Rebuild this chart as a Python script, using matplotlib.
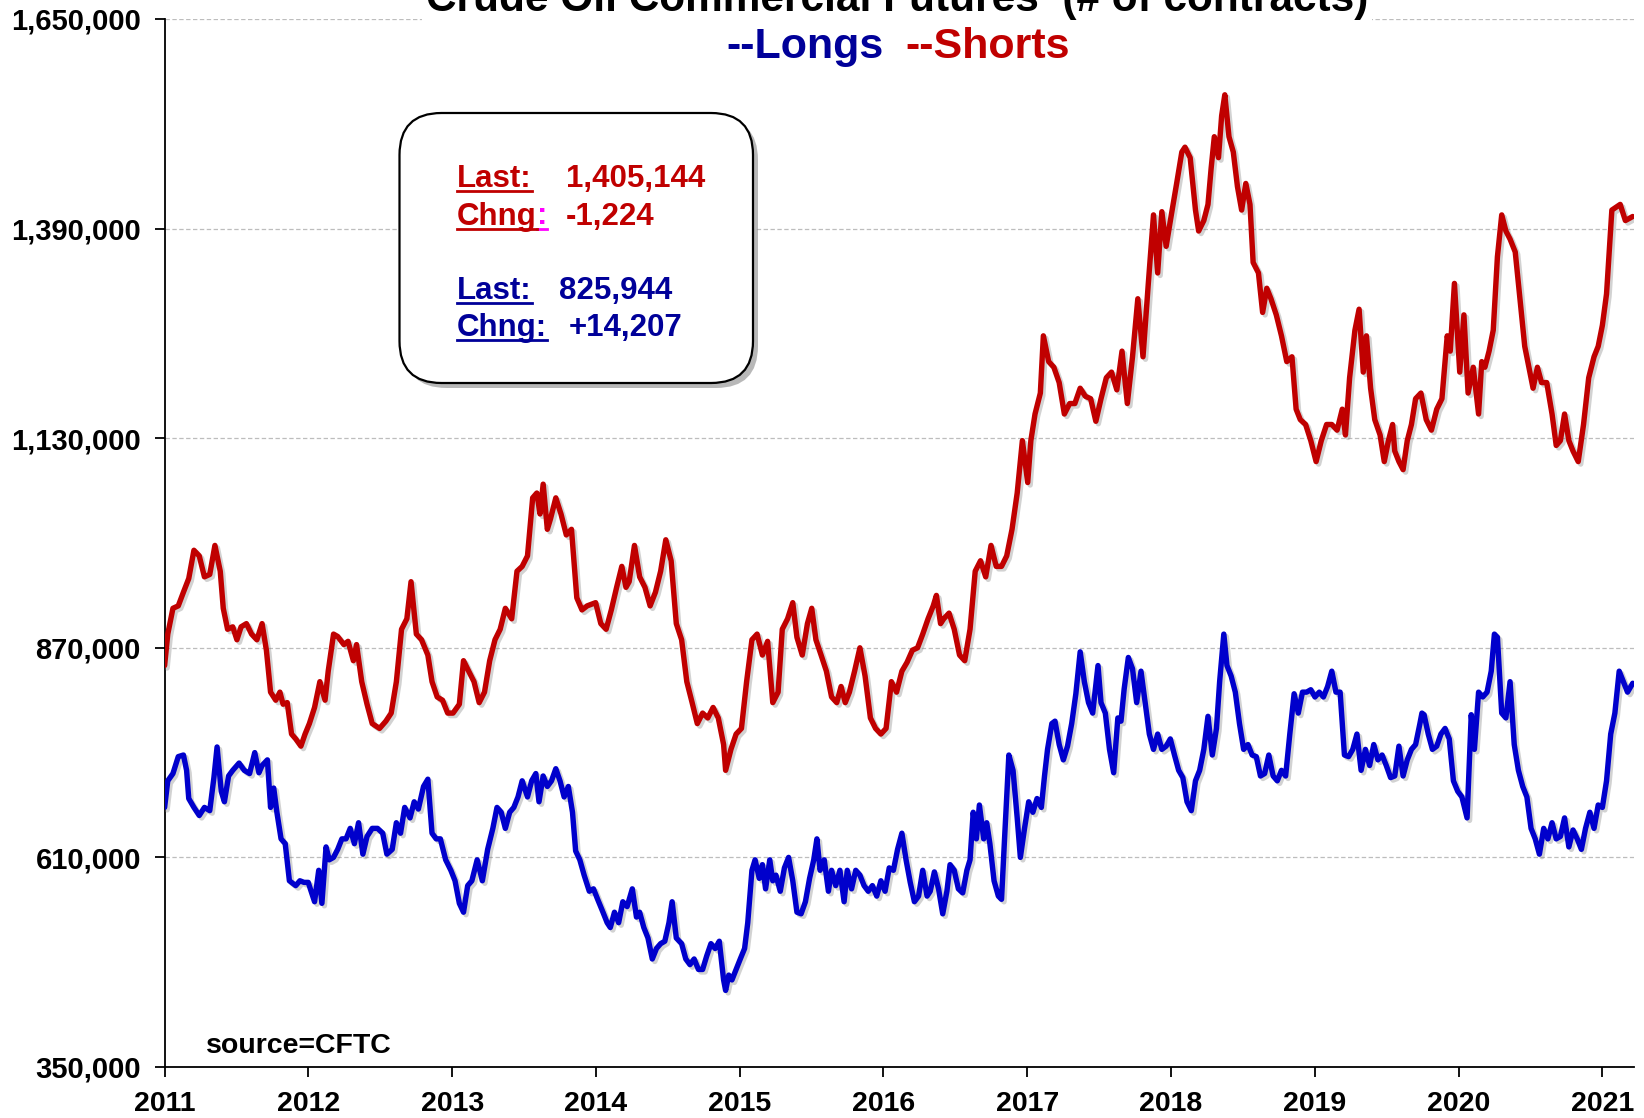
import matplotlib
matplotlib.use('Agg')
import matplotlib.pyplot as plt
from matplotlib import patheffects as pe
from matplotlib.patches import FancyBboxPatch
from matplotlib.transforms import IdentityTransform
from matplotlib.lines import Line2D

# ---- data, dates as decimal years, values in thousands of contracts
shorts_year = [
    2011.000, 2011.022, 2011.058, 2011.095, 2011.131, 2011.168, 2011.204, 2011.241, 2011.277, 2011.314,
    2011.350, 2011.387, 2011.408, 2011.438, 2011.474, 2011.503, 2011.532, 2011.569, 2011.605, 2011.642,
    2011.678, 2011.708, 2011.737, 2011.773, 2011.802, 2011.824, 2011.853, 2011.883, 2011.912, 2011.948,
    2011.977,
    2012.007, 2012.043, 2012.080, 2012.116, 2012.138, 2012.175, 2012.204, 2012.247, 2012.276, 2012.313,
    2012.335, 2012.371, 2012.408, 2012.444, 2012.495, 2012.539, 2012.576, 2012.612, 2012.648, 2012.685,
    2012.714, 2012.751, 2012.787, 2012.831, 2012.860, 2012.896, 2012.933, 2012.969,
    2013.006, 2013.050, 2013.079, 2013.115, 2013.152, 2013.188, 2013.225, 2013.261, 2013.298, 2013.334,
    2013.370, 2013.414, 2013.451, 2013.487, 2013.524, 2013.560, 2013.589, 2013.611, 2013.633, 2013.662,
    2013.684, 2013.721, 2013.757, 2013.794, 2013.830, 2013.867, 2013.903, 2013.939, 2013.998,
    2014.034, 2014.071, 2014.107, 2014.144, 2014.180, 2014.209, 2014.231, 2014.268, 2014.304, 2014.341,
    2014.377, 2014.414, 2014.450, 2014.486, 2014.523, 2014.559, 2014.596, 2014.632, 2014.669, 2014.705,
    2014.742, 2014.778, 2014.815, 2014.851, 2014.888, 2014.902, 2014.939, 2014.975,
    2015.012, 2015.048, 2015.085, 2015.121, 2015.158, 2015.194, 2015.230, 2015.267, 2015.296, 2015.333,
    2015.369, 2015.398, 2015.435, 2015.471, 2015.501, 2015.530, 2015.566, 2015.603, 2015.639, 2015.675,
    2015.705, 2015.734, 2015.763, 2015.799, 2015.836, 2015.872, 2015.909, 2015.945, 2015.982,
    2016.018, 2016.055, 2016.091, 2016.128, 2016.164, 2016.201, 2016.237, 2016.273, 2016.310, 2016.346,
    2016.368, 2016.397, 2016.419, 2016.456, 2016.492, 2016.529, 2016.565, 2016.602, 2016.638, 2016.675,
    2016.711, 2016.748, 2016.784, 2016.821, 2016.857, 2016.894, 2016.930, 2016.966,
    2017.003, 2017.025, 2017.054, 2017.091, 2017.112, 2017.149, 2017.185, 2017.222, 2017.258, 2017.295,
    2017.331, 2017.368, 2017.404, 2017.441, 2017.477, 2017.513, 2017.550, 2017.586, 2017.623, 2017.659,
    2017.696, 2017.732, 2017.769, 2017.805, 2017.842, 2017.878, 2017.907, 2017.936, 2017.966,
    2018.002, 2018.039, 2018.075, 2018.097, 2018.133, 2018.170, 2018.192, 2018.228, 2018.257, 2018.279,
    2018.301, 2018.330, 2018.352, 2018.374, 2018.403, 2018.433, 2018.462, 2018.491, 2018.520, 2018.549,
    2018.571, 2018.608, 2018.637, 2018.666, 2018.695, 2018.732, 2018.768, 2018.805, 2018.841, 2018.870,
    2018.899, 2018.936, 2018.972,
    2019.009, 2019.045, 2019.082, 2019.118, 2019.155, 2019.191, 2019.213, 2019.242, 2019.279, 2019.308,
    2019.337, 2019.359, 2019.388, 2019.417, 2019.454, 2019.483, 2019.512, 2019.541, 2019.556, 2019.585,
    2019.614, 2019.643, 2019.672, 2019.701, 2019.738, 2019.775, 2019.811, 2019.848, 2019.884, 2019.921,
    2019.942, 2019.971,
    2020.008, 2020.037, 2020.066, 2020.102, 2020.139, 2020.161, 2020.183, 2020.212, 2020.241, 2020.270,
    2020.300, 2020.329, 2020.358, 2020.394, 2020.431, 2020.460, 2020.489, 2020.518, 2020.548, 2020.577,
    2020.613, 2020.650, 2020.679, 2020.708, 2020.737, 2020.767, 2020.796, 2020.832, 2020.869, 2020.905,
    2020.942, 2020.971,
    2021.000, 2021.029, 2021.066, 2021.124, 2021.160, 2021.211,
]
shorts_k = [
    848, 887, 919, 922, 939, 956, 991, 984, 958, 961, 997, 965, 919, 893, 896, 880, 896, 900, 887, 880,
    900, 867, 815, 805, 815, 800, 802, 763, 757, 748, 763,
    776, 796, 828, 805, 841, 887, 884, 874, 878, 854, 874, 828, 800, 776, 770, 779, 789, 828, 893, 906,
    952, 887, 880, 861, 828, 809, 805, 789,
    789, 800, 854, 841, 828, 802, 815, 854, 880, 893, 919, 906, 965, 971, 984, 1056, 1062, 1036, 1073, 1017,
    1030, 1056, 1036, 1010, 1017, 932, 917, 922, 926,
    900, 893, 917, 945, 971, 945, 952, 997, 958, 945, 922, 939, 965, 1004, 978, 900, 880, 828, 802, 776,
    789, 783, 796, 783, 750, 718, 744, 763,
    770, 828, 880, 887, 861, 878, 802, 815, 893, 906, 926, 883, 861, 900, 919, 880, 861, 841, 809, 802,
    822, 802, 815, 841, 870, 835, 783, 770, 763,
    770, 828, 815, 841, 852, 867, 870, 887, 906, 922, 935, 900, 906, 913, 893, 861, 854, 893, 965, 978,
    958, 997, 971, 971, 984, 1017, 1062, 1127,
    1075, 1127, 1160, 1186, 1257, 1225, 1218, 1199, 1160, 1173, 1173, 1192, 1182, 1179, 1151, 1179, 1205, 1212, 1190, 1238,
    1173, 1231, 1303, 1231, 1322, 1407, 1335, 1411, 1368,
    1407, 1446, 1485, 1491, 1478, 1413, 1387, 1400, 1420, 1465, 1504, 1478, 1530, 1556, 1504, 1485, 1442, 1413, 1446, 1420,
    1348, 1335, 1286, 1316, 1303, 1283, 1257, 1225, 1231, 1166, 1153, 1147, 1127,
    1101, 1127, 1147, 1147, 1140, 1166, 1134, 1205, 1264, 1290, 1212, 1257, 1192, 1153, 1134, 1101, 1127, 1147, 1114, 1101,
    1091, 1127, 1147, 1179, 1186, 1153, 1140, 1166, 1179, 1257, 1238, 1322,
    1212, 1283, 1186, 1218, 1160, 1225, 1218, 1238, 1264, 1355, 1407, 1387, 1377, 1361, 1296, 1244, 1218, 1192, 1218, 1199,
    1199, 1160, 1121, 1127, 1160, 1127, 1114, 1101, 1147, 1205, 1231, 1244,
    1270, 1309, 1413, 1420, 1400, 1405,
]

longs_year = [
    2011.000, 2011.022, 2011.058, 2011.095, 2011.131, 2011.153, 2011.168, 2011.204, 2011.241, 2011.277,
    2011.314, 2011.343, 2011.365, 2011.394, 2011.416, 2011.445, 2011.474, 2011.518, 2011.554, 2011.591,
    2011.627, 2011.656, 2011.678, 2011.715, 2011.737, 2011.759, 2011.781, 2011.810, 2011.839, 2011.868,
    2011.912, 2011.941, 2011.970, 2011.999,
    2012.043, 2012.072, 2012.094, 2012.123, 2012.145, 2012.175, 2012.204, 2012.233, 2012.262, 2012.291,
    2012.320, 2012.349, 2012.379, 2012.408, 2012.444, 2012.481, 2012.517, 2012.546, 2012.583, 2012.612,
    2012.641, 2012.670, 2012.707, 2012.736, 2012.765, 2012.801, 2012.831, 2012.860, 2012.889, 2012.918,
    2012.955, 2012.991,
    2013.020, 2013.050, 2013.079, 2013.108, 2013.137, 2013.174, 2013.210, 2013.247, 2013.283, 2013.312,
    2013.341, 2013.370, 2013.400, 2013.429, 2013.458, 2013.487, 2013.524, 2013.553, 2013.582, 2013.604,
    2013.633, 2013.662, 2013.691, 2013.721, 2013.750, 2013.779, 2013.808, 2013.837, 2013.859, 2013.888,
    2013.918, 2013.954, 2013.983,
    2014.012, 2014.049, 2014.078, 2014.100, 2014.129, 2014.158, 2014.187, 2014.217, 2014.253, 2014.282,
    2014.304, 2014.333, 2014.362, 2014.392, 2014.421, 2014.450, 2014.479, 2014.508, 2014.530, 2014.559,
    2014.596, 2014.625, 2014.654, 2014.683, 2014.713, 2014.742, 2014.771, 2014.800, 2014.829, 2014.858,
    2014.888, 2014.902, 2014.924, 2014.946, 2014.975,
    2015.004, 2015.034, 2015.056, 2015.085, 2015.107, 2015.136, 2015.158, 2015.180, 2015.209, 2015.230,
    2015.252, 2015.282, 2015.311, 2015.340, 2015.369, 2015.398, 2015.427, 2015.457, 2015.486, 2015.515,
    2015.537, 2015.559, 2015.588, 2015.617, 2015.639, 2015.668, 2015.697, 2015.726, 2015.748, 2015.778,
    2015.807, 2015.836, 2015.865, 2015.894, 2015.923, 2015.953, 2015.982,
    2016.011, 2016.040, 2016.069, 2016.098, 2016.128, 2016.157, 2016.186, 2016.215, 2016.244, 2016.273,
    2016.303, 2016.325, 2016.354, 2016.383, 2016.412, 2016.441, 2016.463, 2016.492, 2016.521, 2016.551,
    2016.580, 2016.602, 2016.624, 2016.646, 2016.667, 2016.697, 2016.718, 2016.740, 2016.769, 2016.799,
    2016.821, 2016.842, 2016.872, 2016.901, 2016.930, 2016.952, 2016.981,
    2017.010, 2017.039, 2017.068, 2017.098, 2017.120, 2017.141, 2017.171, 2017.193, 2017.222, 2017.251,
    2017.280, 2017.309, 2017.338, 2017.368, 2017.397, 2017.426, 2017.455, 2017.492, 2017.513, 2017.543,
    2017.572, 2017.601, 2017.630, 2017.652, 2017.674, 2017.703, 2017.732, 2017.761, 2017.791, 2017.820,
    2017.849, 2017.878, 2017.907, 2017.936, 2017.966, 2017.995,
    2018.024, 2018.053, 2018.082, 2018.111, 2018.141, 2018.170, 2018.199, 2018.228, 2018.257, 2018.287,
    2018.316, 2018.338, 2018.367, 2018.389, 2018.418, 2018.447, 2018.476, 2018.505, 2018.535, 2018.564,
    2018.593, 2018.622, 2018.651, 2018.680, 2018.710, 2018.739, 2018.768, 2018.797, 2018.826, 2018.856,
    2018.885, 2018.914, 2018.943, 2018.972,
    2019.001, 2019.031, 2019.060, 2019.089, 2019.118, 2019.147, 2019.176, 2019.206, 2019.235, 2019.264,
    2019.293, 2019.322, 2019.352, 2019.381, 2019.410, 2019.439, 2019.468, 2019.497, 2019.527, 2019.556,
    2019.585, 2019.614, 2019.643, 2019.672, 2019.701, 2019.731, 2019.745, 2019.760, 2019.789, 2019.818,
    2019.848, 2019.877, 2019.906, 2019.935, 2019.964, 2019.994,
    2020.023, 2020.059, 2020.088, 2020.110, 2020.139, 2020.168, 2020.198, 2020.227, 2020.249, 2020.270,
    2020.300, 2020.329, 2020.358, 2020.387, 2020.416, 2020.446, 2020.475, 2020.504, 2020.533, 2020.562,
    2020.592, 2020.621, 2020.650, 2020.679, 2020.708, 2020.737, 2020.767, 2020.796, 2020.825, 2020.854,
    2020.883, 2020.913, 2020.942, 2020.971,
    2021.000, 2021.029, 2021.058, 2021.087, 2021.117, 2021.146, 2021.175, 2021.211,
]
longs_k = [
    672, 705, 714, 735, 737, 718, 683, 672, 662, 672, 668, 709, 747, 692, 679, 711, 718, 727, 718, 714,
    740, 715, 724, 731, 672, 696, 666, 633, 627, 581, 575, 581, 579, 579,
    555, 594, 553, 623, 607, 610, 620, 633, 633, 646, 627, 653, 614, 636, 646, 646, 640, 614, 620, 653,
    640, 672, 659, 679, 670, 698, 707, 640, 633, 633, 607, 594,
    581, 553, 542, 575, 581, 607, 581, 620, 646, 672, 666, 646, 666, 672, 685, 705, 685, 705, 714, 679,
    711, 698, 705, 720, 705, 685, 698, 666, 618, 607, 588, 568, 571,
    558, 542, 529, 523, 542, 529, 555, 549, 571, 536, 542, 523, 510, 484, 497, 503, 506, 529, 555, 510,
    503, 484, 477, 484, 471, 471, 488, 503, 497, 506, 458, 445, 464, 458, 471,
    484, 497, 529, 594, 607, 584, 601, 571, 607, 581, 588, 568, 597, 610, 581, 542, 540, 555, 584, 607,
    633, 594, 607, 568, 594, 575, 594, 555, 594, 571, 594, 588, 575, 568, 575, 562, 581,
    568, 597, 594, 620, 640, 607, 579, 555, 562, 594, 562, 568, 592, 571, 540, 568, 601, 594, 571, 566,
    594, 607, 666, 633, 675, 633, 653, 627, 581, 562, 558, 633, 737, 718, 659, 610, 646,
    679, 666, 683, 672, 711, 744, 776, 779, 750, 731, 748, 776, 813, 865, 828, 802, 789, 848, 802, 789,
    744, 715, 783, 779, 819, 858, 844, 802, 841, 802, 763, 744, 763, 744, 748, 757,
    737, 718, 709, 679, 668, 705, 718, 744, 785, 737, 770, 828, 887, 848, 835, 815, 776, 744, 750, 737,
    735, 711, 714, 737, 711, 705, 718, 711, 763, 813, 789, 815, 815, 818,
    809, 815, 809, 822, 841, 815, 815, 737, 735, 744, 763, 718, 744, 724, 750, 731, 737, 724, 709, 711,
    748, 711, 731, 744, 750, 776, 789, 787, 763, 744, 748, 763, 770, 757, 705, 692,
    685, 659, 787, 744, 815, 809, 815, 841, 887, 883, 789, 783, 828, 750, 718, 698, 685, 646, 633, 614,
    646, 633, 653, 633, 636, 659, 623, 644, 633, 620, 646, 666, 646, 675,
    672, 705, 763, 789, 841, 828, 815, 826,
]

y_ticks = [350000, 610000, 870000, 1130000, 1390000, 1650000]
x_ticks = list(range(2011, 2022))

shorts_last, shorts_chng = '1,405,144', '-1,224'
longs_last, longs_chng = '825,944', '+14,207'

RED = '#C00000'
BLUE_LINE = '#0000CC'
BLUE_TXT = '#000099'

W, H = 1644, 1118
plt.rcParams['font.family'] = ['Liberation Sans', 'DejaVu Sans']
plt.rcParams['font.weight'] = 'bold'

fig = plt.figure(figsize=(W / 100, H / 100), dpi=100)
ax = fig.add_axes([164.6 / W, 1 - 1067 / H, (1634 - 164.6) / W, (1067 - 19) / H])

shadow = [pe.SimpleLineShadow(offset=(1.8, -1.8), shadow_color='gray', alpha=0.35), pe.Normal()]
ax.plot(shorts_year, [v * 1000 for v in shorts_k], color=RED, lw=3.9, solid_joinstyle='round',
        solid_capstyle='round', path_effects=shadow, zorder=3)
ax.plot(longs_year, [v * 1000 for v in longs_k], color=BLUE_LINE, lw=3.9, solid_joinstyle='round',
        solid_capstyle='round', path_effects=shadow, zorder=3)

ax.set_xlim(2011, 2021.22)
ax.set_ylim(350000, 1650000)
ax.set_yticks(y_ticks)
ax.set_yticklabels([f'{v:,}' for v in y_ticks])
ax.set_xticks(x_ticks)
ax.set_xticklabels([str(x) for x in x_ticks])
ax.yaxis.grid(True, linestyle=(0, (3.5, 2)), color='#bdbdbd', lw=0.9)
ax.set_axisbelow(True)
for s in ['top', 'right']:
    ax.spines[s].set_visible(False)
for s in ['left', 'bottom']:
    ax.spines[s].set_linewidth(1.3)
ax.tick_params(axis='both', direction='out', length=7, width=1.3, pad=10)
ax.tick_params(axis='y', labelsize=21)
ax.tick_params(axis='x', labelsize=20.5)

# titles
fig.text(897 / W, 1 - 11 / H, 'Crude Oil Commercial Futures  (# of contracts)', ha='center',
         va='baseline', fontsize=30.5, weight='bold', bbox=dict(fc='white', ec='none', pad=3))
fig.text(884 / W, 1 - 58 / H, '--Longs', ha='right', va='baseline', fontsize=31, color=BLUE_TXT)
fig.text(905 / W, 1 - 58 / H, '--Shorts', ha='left', va='baseline', fontsize=31, color=RED)

fig.text(205.5 / W, 1 - 1053 / H, 'source=CFTC', ha='left', va='baseline', fontsize=20.5)

# info box
ident = IdentityTransform()
bx0, by0, bx1, by1 = 399.5, 113, 753, 383
fig.add_artist(FancyBboxPatch((bx0 + 5, H - by1 - 5), bx1 - bx0, by1 - by0,
                              boxstyle='round,pad=0,rounding_size=42', transform=ident,
                              fc='#8a8a8a', ec='none', alpha=0.6, zorder=4))
fig.add_artist(FancyBboxPatch((bx0, H - by1), bx1 - bx0, by1 - by0,
                              boxstyle='round,pad=0,rounding_size=42', transform=ident,
                              fc='white', ec='black', lw=1.6, zorder=5))

FS = 22.5
rows = [
    ('Last:', shorts_last, RED, 187, 566),
    ('Chng', shorts_chng, RED, 224.5, 566),
    ('Last:', longs_last, BLUE_TXT, 299, 559),
    ('Chng:', longs_chng, BLUE_TXT, 336, 569),
]
labels = []
for lab, val, col, base, vx in rows:
    t = fig.text(457, H - base, lab, transform=ident, ha='left', va='baseline', fontsize=FS,
                 color=col, zorder=6)
    fig.text(vx, H - base, val, transform=ident, ha='left', va='baseline', fontsize=FS,
             color=col, zorder=6)
    labels.append((t, col, base))

fig.canvas.draw()
r = fig.canvas.get_renderer()
for i, (t, col, base) in enumerate(labels):
    bb = t.get_window_extent(r)
    if i == 1:
        c = fig.text(bb.x1, H - base, ':', transform=ident, ha='left', va='baseline', fontsize=FS,
                     color='#FF00FF', zorder=6)
        fig.canvas.draw()
        cb = c.get_window_extent(r)
        fig.add_artist(Line2D([bb.x1, cb.x1], [H - base - 4, H - base - 4], transform=ident,
                              color='#FF00FF', lw=2, zorder=6))
    fig.add_artist(Line2D([bb.x0, bb.x1], [H - base - 4, H - base - 4], transform=ident,
                          color=col, lw=2, zorder=6))

fig.savefig('out.png', dpi=100)
